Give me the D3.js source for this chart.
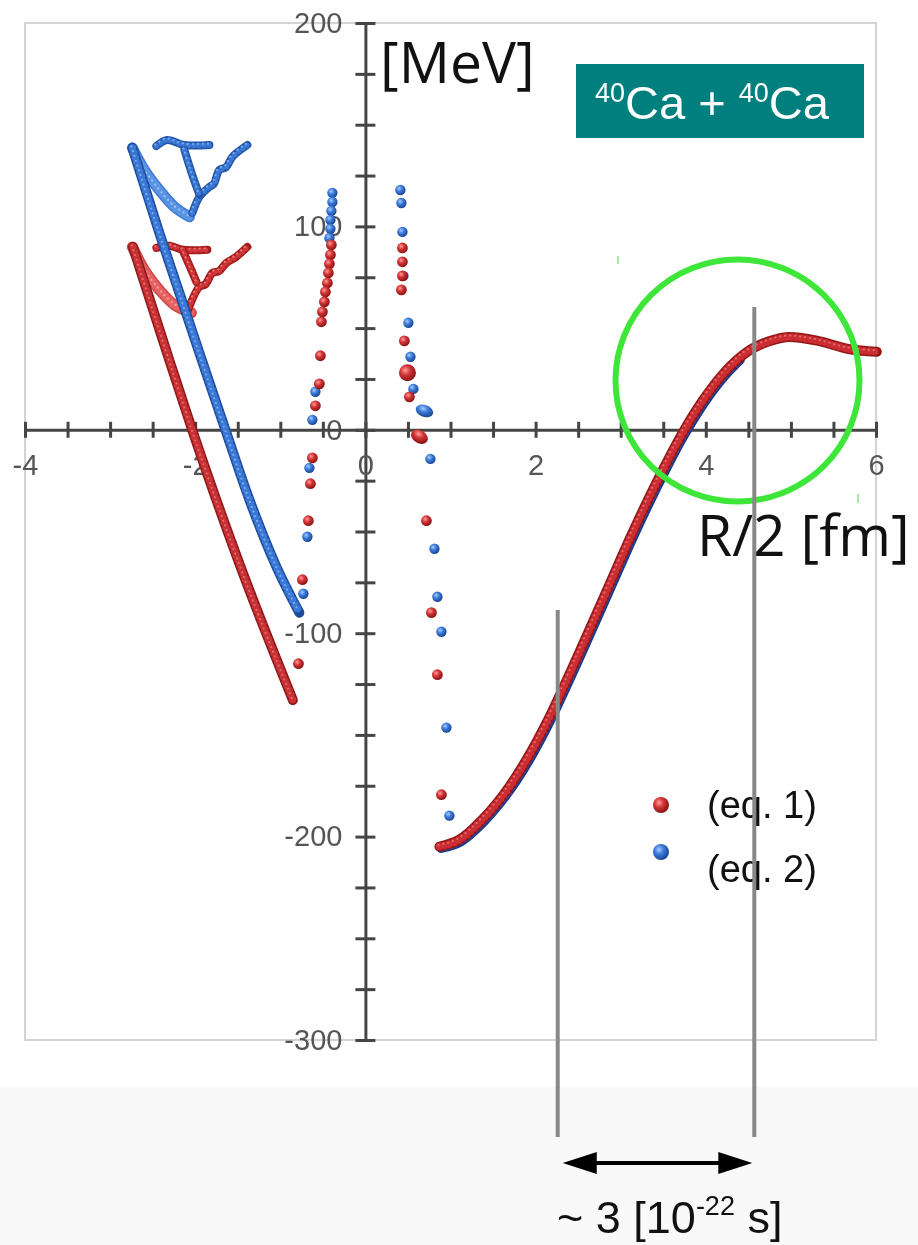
<!DOCTYPE html>
<html>
<head>
<meta charset="utf-8">
<script src="https://cdn.jsdelivr.net/npm/d3@7"></script>
<style>
  html, body { margin: 0; padding: 0; background: #fff; }
  svg { display: block; }
</style>
</head>
<body>
<div id="chart"></div>
<script>
(function () {
  "use strict";

  // ── Datos (x = R/2 [fm], y = [MeV]) ─────────────────────
  const X_LABELS = [-4, -2, 0, 2, 4, 6];
  const Y_LABELS = [200, 100, 0, -100, -200, -300];

  // curvas densas (eq. 1 = rojo, eq. 2 = azul)
  const redMain = [[0.870, -204.9], [1.105, -201.5], [1.375, -191.6], [1.692, -175.4], [1.962, -157.2], [2.127, -144.2], [2.432, -117.0], [2.837, -79.0], [3.142, -50.3], [3.424, -25.7], [3.694, -4.0], [3.953, 13.7], [4.223, 28.4], [4.482, 38.2], [4.752, 43.6], [4.987, 45.6], [5.304, 43.8], [5.692, 39.6], [6.009, 38.4]];
  const blueMain = [[0.890, -205.6], [1.125, -202.2], [1.395, -192.3], [1.712, -176.1], [1.982, -157.9], [2.147, -144.9], [2.452, -117.7], [2.857, -79.7], [3.162, -51.0], [3.444, -26.4], [3.714, -4.7], [3.973, 13.0], [4.243, 27.7], [4.400, 34.5]];

  const redLong = [[-2.732, 89.9], [-2.380, 44.1], [-2.027, -1.1], [-1.475, -66.5], [-0.852, -132.9]];
  const blueLong = [[-2.738, 138.6], [-2.421, 96.8], [-2.186, 67.3], [-1.951, 37.8], [-1.645, 0], [-1.363, -34.4], [-1.046, -67.3], [-0.776, -89.9]];

  const redArc = [[-2.738, 89.9], [-2.597, 78.6], [-2.421, 68.8], [-2.244, 61.4], [-2.045, 57.5]];
  const redWiggle = [[-2.092, 58.0], [-1.951, 70.3], [-1.880, 71.5], [-1.798, 77.1], [-1.720, 78.0], [-1.633, 82.1], [-1.520, 85.0], [-1.387, 89.9]];
  const redBar = [[-2.456, 89.4], [-2.300, 90.5], [-2.150, 88.5], [-1.857, 88.5]];
  const redStem = [[-2.150, 88.5], [-2.060, 80.0], [-1.986, 72.7]];

  const blueArc = [[-2.738, 138.6], [-2.597, 127.8], [-2.421, 117.9], [-2.244, 109.6], [-2.068, 104.7]];
  const blueWiggle = [[-2.033, 106.6], [-1.951, 114.5], [-1.833, 119.4], [-1.780, 121.0], [-1.716, 127.8], [-1.640, 129.0], [-1.563, 134.2], [-1.387, 140.0]];
  const blueBar = [[-2.456, 139.5], [-2.330, 142.5], [-2.127, 140.0], [-1.833, 140.0]];
  const blueStem = [[-2.127, 137.6], [-2.040, 126.0], [-1.951, 115.5]];

  // puntos sueltos
  const redDotsLeft = [[-0.400, 90.9], [-0.411, 86.0], [-0.423, 81.6], [-0.435, 77.1], [-0.447, 72.2], [-0.470, 67.8], [-0.482, 62.9], [-0.505, 58.0], [-0.517, 53.1], [-0.529, 36.4], [-0.541, 22.6], [-0.588, 11.8], [-0.623, -13.8], [-0.646, -26.5], [-0.670, -44.7], [-0.740, -73.7], [-0.787, -115.0]];
  const blueDotsLeft = [[-0.388, 116.5], [-0.388, 112.0], [-0.400, 107.6], [-0.411, 103.2], [-0.411, 98.8], [-0.423, 94.3], [-0.588, 18.7], [-0.623, 4.9], [-0.658, -18.7], [-0.682, -52.6], [-0.729, -80.6]];
  const redDotsRight = [[0.435, 89.4], [0.435, 82.6], [0.435, 75.7], [0.423, 68.8], [0.458, 43.7], [0.517, 16.2], [0.717, -44.7], [0.776, -89.9], [0.846, -120.4], [0.893, -179.4]];
  const blueDotsRight = [[0.411, 117.9], [0.423, 111.5], [0.435, 97.3], [0.447, 75.7], [0.505, 52.6], [0.529, 35.9], [0.564, 20.1], [0.764, -14.3], [0.811, -58.5], [0.846, -82.1], [0.893, -99.3], [0.952, -146.4], [0.987, -189.7]];
  const redBig = [[0.494, 28.0]];
  const redBlob = [[0.635, -3.4]];
  const blueBlob = [[0.693, 9.3]];

  // anotaciones
  const markX = [2.26, 4.57];
  const LEGEND = ["(eq. 1)", "(eq. 2)"];

  // ── Setup SVG ──────────────────────────────────────────
  const W = 918, H = 1245;
  const svg = d3.select("#chart").append("svg").attr("width", W).attr("height", H);
  const defs = svg.append("defs");

  function ballGrad(id, c0, c1, c2) {
    const gr = defs.append("radialGradient").attr("id", id).attr("cx", "38%").attr("cy", "35%").attr("r", "65%");
    gr.append("stop").attr("offset", "0%").attr("stop-color", c0);
    gr.append("stop").attr("offset", "45%").attr("stop-color", c1);
    gr.append("stop").attr("offset", "100%").attr("stop-color", c2);
  }
  ballGrad("ballRed", "#ff9c9c", "#d23436", "#8a1414");
  ballGrad("ballBlue", "#a9cbff", "#3b7bd9", "#1c4796");

  defs.append("filter").attr("id", "soft").append("feGaussianBlur").attr("stdDeviation", 0.55);

  // fondo
  svg.append("rect").attr("x", 0).attr("y", 0).attr("width", W).attr("height", H).attr("fill", "#fff");
  svg.append("rect").attr("x", 0).attr("y", 1087).attr("width", W).attr("height", H - 1087).attr("fill", "#f9f9f9");

  // Escalas
  const x = d3.scaleLinear().domain([-4, 6]).range([25, 876]);
  const y = d3.scaleLinear().domain([-300, 200]).range([1040, 23]);

  const plot = svg.append("g").attr("filter", "url(#soft)");

  // marco
  plot.append("rect").attr("x", 25).attr("y", 23).attr("width", 851).attr("height", 1017)
    .attr("fill", "none").attr("stroke", "#d4d4d4").attr("stroke-width", 2);

  // Ejes
  const yAxis = d3.axisLeft(y).tickValues(d3.range(-300, 201, 25)).tickSizeInner(10).tickSizeOuter(0).tickPadding(13)
    .tickFormat((d) => (Y_LABELS.includes(d) ? String(d) : ""));
  const xAxis = d3.axisBottom(x).tickValues(d3.range(-4, 6.01, 0.5)).tickSizeInner(8).tickSizeOuter(0).tickPadding(17)
    .tickFormat((d) => (X_LABELS.includes(d) ? String(d) : ""));

  const gY = plot.append("g").attr("transform", `translate(${x(0)},0)`).call(yAxis);
  const gX = plot.append("g").attr("transform", `translate(0,${y(0)})`).call(xAxis);

  [gX, gY].forEach((ax) => {
    ax.select(".domain").attr("stroke", "#444").attr("stroke-width", 3);
    ax.selectAll(".tick line").attr("stroke", "#444").attr("stroke-width", 3);
    ax.selectAll(".tick text").attr("font-family", "Liberation Sans, Arial, sans-serif").attr("font-size", 29).attr("fill", "#555");
  });
  gY.selectAll(".tick line").attr("x1", 10);
  gX.selectAll(".tick line").attr("y1", -8);

  // ── Curvas ─────────────────────────────────────────────
  const gCurves = plot.append("g");
  const lineSmooth = d3.line().x((d) => x(d[0])).y((d) => y(d[1])).curve(d3.curveMonotoneX);
  const lineFree = d3.line().x((d) => x(d[0])).y((d) => y(d[1])).curve(d3.curveCatmullRom.alpha(0.5));

  function beads(pts, fill, dark, hi, w, gen) {
    const d = (gen || lineFree)(pts);
    gCurves.append("path").attr("d", d).attr("fill", "none")
      .attr("stroke", dark).attr("stroke-width", w).attr("stroke-linecap", "round").attr("stroke-linejoin", "round");
    gCurves.append("path").attr("d", d).attr("fill", "none")
      .attr("stroke", fill).attr("stroke-width", w - 2.5).attr("stroke-linecap", "round")
      .attr("stroke-dasharray", "0 5");
    gCurves.append("path").attr("d", d).attr("fill", "none")
      .attr("stroke", hi).attr("stroke-width", 2.2).attr("stroke-linecap", "round")
      .attr("stroke-dasharray", "0 5").attr("transform", "translate(-1,-1.5)").attr("opacity", 0.8);
  }

  // estructura izquierda
  beads(redArc, "#e46464", "#d24444", "#ffb0b0", 11);
  beads(redLong, "#c63034", "#8e1818", "#f07a7a", 10, lineSmooth);
  beads(redWiggle, "#d03438", "#a01c1c", "#f58a8a", 8);
  beads(redBar, "#d03438", "#a01c1c", "#f58a8a", 8);
  beads(redStem, "#d03438", "#a01c1c", "#f58a8a", 8);

  beads(blueArc, "#5b94e4", "#3f7bd6", "#b0d0ff", 11);
  beads(blueLong, "#3a78d6", "#1e4c9c", "#8fbaf5", 10, lineSmooth);
  beads(blueWiggle, "#3a78d6", "#2556a8", "#8fbaf5", 8);
  beads(blueBar, "#3a78d6", "#2556a8", "#8fbaf5", 8);
  beads(blueStem, "#3a78d6", "#2556a8", "#8fbaf5", 8);

  // curva principal
  beads(blueMain, "#2a4fa8", "#1c3580", "#6f95dd", 10, lineSmooth);
  beads(redMain, "#cb2e33", "#921616", "#f07a7a", 10, lineSmooth);

  // ── Puntos sueltos ─────────────────────────────────────
  const gDots = plot.append("g");
  function dots(pts, grad, r) {
    gDots.selectAll(null).data(pts).join("circle")
      .attr("cx", (d) => x(d[0])).attr("cy", (d) => y(d[1])).attr("r", r).attr("fill", `url(#${grad})`);
  }
  function blobs(pts, grad, rx, ry, rot) {
    gDots.selectAll(null).data(pts).join("ellipse")
      .attr("cx", 0).attr("cy", 0).attr("rx", rx).attr("ry", ry).attr("fill", `url(#${grad})`)
      .attr("transform", (d) => `translate(${x(d[0])},${y(d[1])}) rotate(${rot})`);
  }
  dots(blueDotsLeft, "ballBlue", 5.2);
  dots(redDotsLeft, "ballRed", 5.4);
  dots(blueDotsRight, "ballBlue", 5.2);
  dots(redDotsRight, "ballRed", 5.4);
  dots(redBig, "ballRed", 8.5);
  blobs(blueBlob, "ballBlue", 9, 6, 20);
  blobs(redBlob, "ballRed", 9, 6.5, 30);

  // ── Textos ─────────────────────────────────────────────
  svg.append("text").attr("x", 380).attr("y", 83).attr("font-family", "Open Sans, DejaVu Sans, sans-serif")
    .attr("font-size", 57).attr("fill", "#111").text("[MeV]");
  svg.append("text").attr("x", 697).attr("y", 556).attr("font-family", "Open Sans, DejaVu Sans, sans-serif")
    .attr("font-size", 57).attr("fill", "#111").text("R/2 [fm]");

  // recuadro título
  svg.append("rect").attr("x", 576).attr("y", 64).attr("width", 288).attr("height", 74).attr("fill", "#007f7f");
  const title = svg.append("text").attr("x", 595).attr("y", 119).attr("font-family", "Liberation Sans, Arial, sans-serif")
    .attr("fill", "#fff");
  title.append("tspan").attr("font-size", 27).attr("dy", -17).text("40");
  title.append("tspan").attr("font-size", 47).attr("dy", 17).text("Ca + ");
  title.append("tspan").attr("font-size", 27).attr("dy", -17).text("40");
  title.append("tspan").attr("font-size", 47).attr("dy", 17).text("Ca");

  // leyenda
  const legG = svg.append("g").attr("filter", "url(#soft)");
  legG.append("circle").attr("cx", 661).attr("cy", 805).attr("r", 8).attr("fill", "url(#ballRed)");
  legG.append("circle").attr("cx", 661).attr("cy", 852).attr("r", 8).attr("fill", "url(#ballBlue)");
  svg.selectAll(".leg").data(LEGEND).join("text").attr("class", "leg")
    .attr("x", 707).attr("y", (d, i) => 818 + i * 64)
    .attr("font-family", "Liberation Sans, Arial, sans-serif").attr("font-size", 38).attr("fill", "#111").text((d) => d);

  // círculo verde
  svg.append("ellipse").attr("cx", 737.5).attr("cy", 380.5).attr("rx", 122).attr("ry", 121)
    .attr("fill", "none").attr("stroke", "#3fe63a").attr("stroke-width", 6);
  svg.append("line").attr("x1", 618).attr("x2", 618).attr("y1", 256).attr("y2", 264).attr("stroke", "#7ee87a").attr("stroke-width", 1.5);
  svg.append("line").attr("x1", 858).attr("x2", 858).attr("y1", 494).attr("y2", 503).attr("stroke", "#7ee87a").attr("stroke-width", 1.5);

  // líneas verticales grises
  const tops = [610, 307];
  svg.selectAll(".vmark").data(markX).join("line").attr("class", "vmark")
    .attr("x1", (d) => x(d)).attr("x2", (d) => x(d))
    .attr("y1", (d, i) => tops[i]).attr("y2", 1137)
    .attr("stroke", "#888").attr("stroke-width", 4);

  // flecha doble
  const ax0 = x(markX[0]) + 5, ax1 = x(markX[1]) - 2, ay = 1163;
  svg.append("line").attr("x1", ax0 + 25).attr("x2", ax1 - 25).attr("y1", ay).attr("y2", ay).attr("stroke", "#000").attr("stroke-width", 4);
  svg.append("path").attr("d", `M${ax0},${ay}L${ax0 + 34},${ay - 11}L${ax0 + 34},${ay + 11}Z`).attr("fill", "#000");
  svg.append("path").attr("d", `M${ax1},${ay}L${ax1 - 34},${ay - 11}L${ax1 - 34},${ay + 11}Z`).attr("fill", "#000");

  const tt = svg.append("text").attr("x", 557).attr("y", 1233).attr("font-family", "Liberation Sans, Arial, sans-serif").attr("fill", "#111");
  tt.append("tspan").attr("font-size", 45).text("~ 3 [10");
  tt.append("tspan").attr("font-size", 27).attr("dy", -18).text("-22");
  tt.append("tspan").attr("font-size", 45).attr("dy", 18).text(" s]");
})();
</script>
</body>
</html>
